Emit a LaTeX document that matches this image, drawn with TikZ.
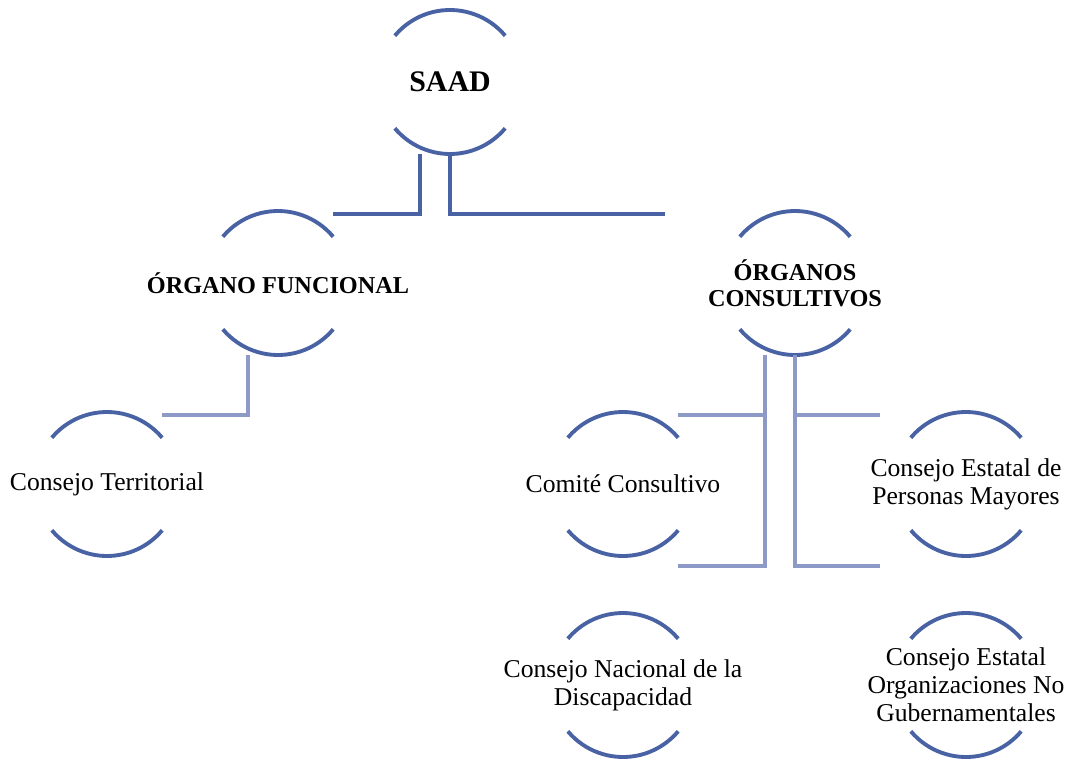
\documentclass[tikz,border=0pt]{standalone}
\usepackage{fontspec}
\setmainfont{Liberation Serif}
\definecolor{rimblue}{RGB}{72,98,163}
\definecolor{subblue}{RGB}{141,153,199}

\begin{document}
\begin{tikzpicture}[line width = 2.2pt,
                      unit/.style = {align = center, font = \fontsize{14.6}{15.9}\selectfont},
                      head/.style = {align = center, font = \fontsize{13.8}{14.8}\selectfont\bfseries},
                      rim/.style = {draw = rimblue},
                      mainlink/.style = {draw = rimblue},
                      sublink/.style = {draw = subblue}]
    \useasboundingbox (0, 0) rectangle (21.46, 15.2);
    \node [head, font = \fontsize{17}{20}\selectfont\bfseries] (saad) at (9, 13.56){SAAD};
    \node [head] (func) at (5.56, 9.54){ÓRGANO FUNCIONAL};
    \node [head] (cons) at (15.9, 9.54){ÓRGANOS\\CONSULTIVOS};
    \node [unit] (terr) at (2.14, 5.52){Consejo Territorial};
    \node [unit] (comite) at (12.46, 5.52){Comité Consultivo};
    \node [unit] (mayores) at (19.32, 5.52){Consejo Estatal de\\Personas Mayores};
    \node [unit] (nacional) at (12.46, 1.5){Consejo Nacional de la\\Discapacidad};
    \node [unit] (ong) at (19.32, 1.5){Consejo Estatal\\Organizaciones No\\Gubernamentales};
    \foreach \n in {saad, func, cons, terr, comite, mayores, nacional, ong}{
      \draw [rim] ([shift = {(40:1.44)}]\n.center) arc (40:140:1.44);
      \draw [rim] ([shift = {(220:1.44)}]\n.center) arc (220:320:1.44);
    }
    \coordinate (func-end) at (6.66, 10.92);
    \coordinate (cons-end) at (13.3, 10.92);
    \coordinate (terr-end) at (3.24, 6.9);
    \coordinate (comite-end) at (13.56, 6.9);
    \coordinate (nacional-end) at (13.56, 3.88);
    \coordinate (mayores-end) at (17.6, 6.9);
    \coordinate (ong-end) at (17.6, 3.88);
    \draw [mainlink] ([xshift = -0.6cm, yshift = -1.44cm]saad.center) |- (func-end);
    \draw [mainlink] ([yshift = -1.44cm]saad.center) |- (cons-end);
    \draw [sublink] ([xshift = -0.6cm, yshift = -1.44cm]func.center) |- (terr-end);
    \draw [sublink] ([xshift = -0.6cm, yshift = -1.44cm]cons.center) |- (comite-end);
    \draw [sublink] ([xshift = -0.6cm, yshift = -1.44cm]cons.center) |- (nacional-end);
    \draw [sublink] ([yshift = -1.44cm]cons.center) |- (mayores-end);
    \draw [sublink] ([yshift = -1.44cm]cons.center) |- (ong-end);
    \end{tikzpicture}
\end{document}
